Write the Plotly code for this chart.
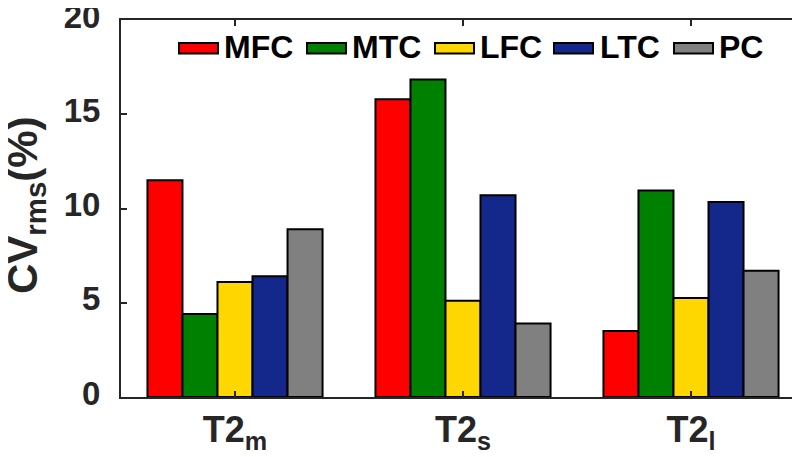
import plotly.graph_objects as go

categories = ["T2<sub>m</sub>", "T2<sub>s</sub>", "T2<sub>l</sub>"]
cat_pos = [1, 2, 3]
series_names = ["MFC", "MTC", "LFC", "LTC", "PC"]
MFC = [11.5, 15.8, 3.5]
MTC = [4.4, 16.85, 10.95]
LFC = [6.1, 5.1, 5.25]
LTC = [6.4, 10.7, 10.35]
PC = [8.9, 3.9, 6.7]
series_values = [MFC, MTC, LFC, LTC, PC]
colors = ["#FF0000", "#008000", "#FFD700", "#14288C", "#808080"]
y_ticks = [0, 5, 10, 15, 20]
y_title = "CV<sub>rms</sub>(%)"

W, H = 800, 457
L, R, T, B = 113, 3, 12, 68
pw, ph = W - L - R, H - T - B

def px(x):
    return (x - L) / pw

def py(y):
    return (H - B - y) / ph

FONT = "Arial, Liberation Sans, sans-serif"
fig = go.Figure()
for name, vals, c in zip(series_names, series_values, colors):
    fig.add_trace(go.Bar(
        x=cat_pos, y=vals, name=name, showlegend=False,
        marker=dict(color=c, line=dict(color="black", width=2)),
    ))

# custom legend (swatches + labels)
leg_swatch_x = [171, 299, 427, 546, 666]
leg_text_x = [214, 342, 470, 590, 709]
shapes = []
annotations = []
for i, (name, c) in enumerate(zip(series_names, colors)):
    x0 = leg_swatch_x[i]
    shapes.append(dict(type="rect", xref="paper", yref="paper",
                       x0=px(x0), x1=px(x0 + 39), y0=py(45.5), y1=py(35),
                       fillcolor=c, line=dict(color="black", width=2)))
    annotations.append(dict(text="<b>%s</b>" % name, xref="paper", yref="paper",
                            x=px(leg_text_x[i]), y=py(39), xanchor="left", yanchor="middle",
                            showarrow=False, font=dict(family=FONT, size=32, color="black")))

# y-axis title
annotations.append(dict(text="<b>%s</b>" % y_title, xref="paper", yref="paper",
                        x=px(17), y=py(197), xanchor="center", yanchor="middle",
                        textangle=-90, showarrow=False,
                        font=dict(family=FONT, size=42, color="#262626")))

fig.update_layout(
    width=W, height=H,
    margin=dict(l=L, r=R, t=T, b=B, autoexpand=False),
    paper_bgcolor="white", plot_bgcolor="white",
    barmode="group", bargap=0.232, bargroupgap=0,
    font=dict(family=FONT, color="#262626"),
    shapes=shapes, annotations=annotations,
    xaxis=dict(range=[0.5, 3.5], tickvals=cat_pos,
               ticktext=["<b>%s</b>" % c for c in categories],
               ticks="inside", ticklen=6, tickwidth=2, tickcolor="#262626",
               showline=True, linewidth=2, linecolor="#262626", mirror="ticks",
               showgrid=False, zeroline=False, ticklabeloverflow="allow",
               tickfont=dict(family=FONT, size=36, color="#262626")),
    yaxis=dict(range=[0, 20], tickvals=y_ticks, ticktext=["<b>%d</b>" % v for v in y_ticks],
               ticks="inside", ticklen=6, tickwidth=2, tickcolor="#262626",
               showline=True, linewidth=2, linecolor="#262626", mirror="ticks",
               showgrid=False, zeroline=False, ticklabeloverflow="allow",
               ticklabelstandoff=12, ticklabelshift=-4,
               tickfont=dict(family=FONT, size=33, color="#262626")),
)

fig.write_html("out.html")
